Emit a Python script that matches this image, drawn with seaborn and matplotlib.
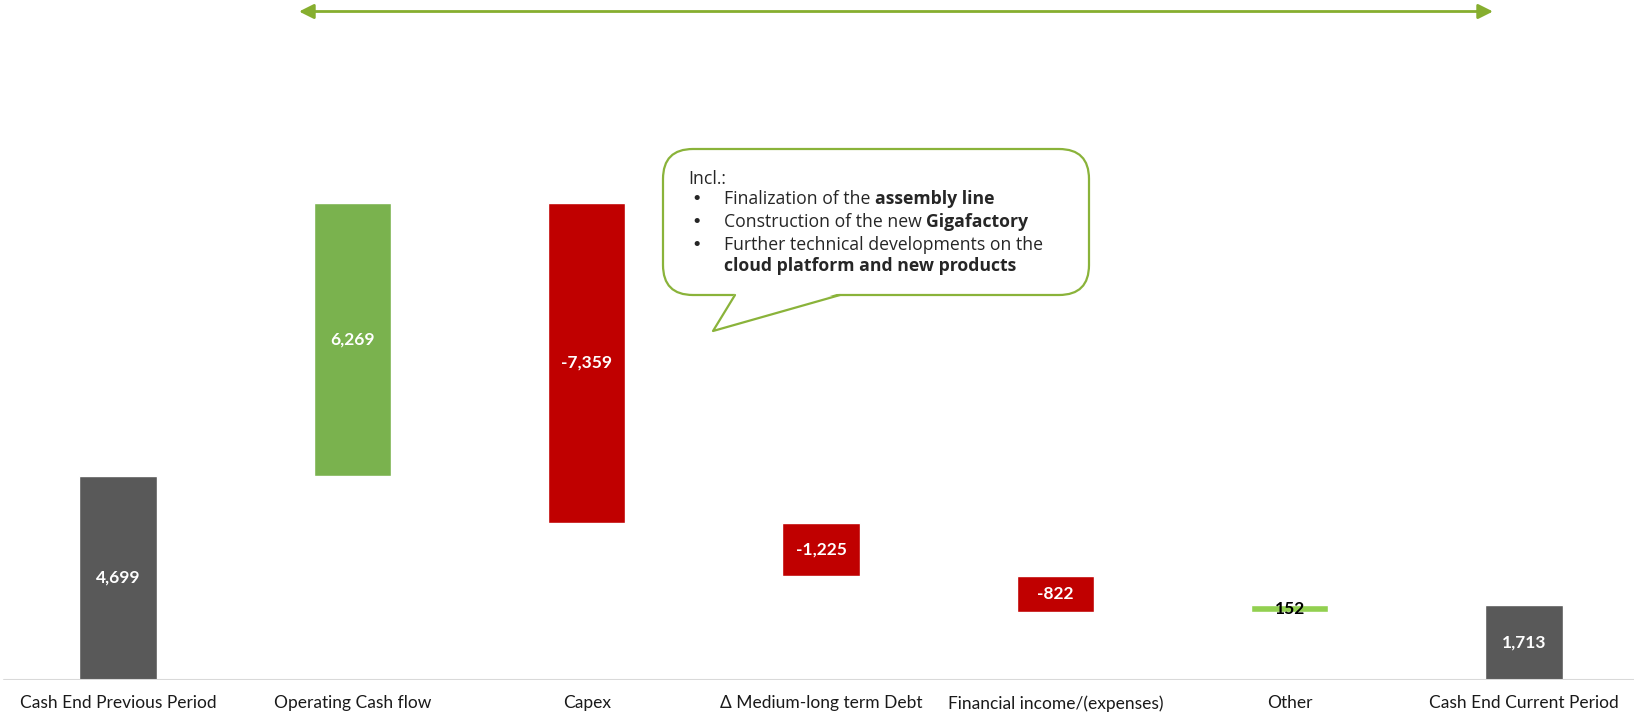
import matplotlib
matplotlib.use("Agg")
import matplotlib.pyplot as plt
from matplotlib.patches import FancyBboxPatch, Polygon
from matplotlib.lines import Line2D
from matplotlib.transforms import IdentityTransform
import numpy as np
import pandas as pd
import seaborn as sns

# dados do gráfico
categorias = ['Cash End Previous Period', 'Operating Cash flow', 'Capex',
              'Δ Medium-long term Debt', 'Financial income/(expenses)', 'Other',
              'Cash End Current Period']
valores = [4699, 6269, -7359, -1225, -822, 152, 1713]
tipos = ['total', 'delta', 'delta', 'delta', 'delta', 'delta', 'total']
cores = ['#595959', '#7AB24E', '#C00000', '#C00000', '#C00000', '#92D050', '#595959']
rotulos = ['4,699', '6,269', '-7,359', '-1,225', '-822', '152', '1,713']
cor_rotulo = ['white', 'white', 'white', 'white', 'white', 'black', 'white']

# calcular base e topo de cada barra
base, topo = [], []
acum = 0
for v, t in zip(valores, tipos):
    if t == 'total':
        base.append(0)
        topo.append(v)
        acum = v
    else:
        novo = acum + v
        base.append(min(acum, novo))
        topo.append(max(acum, novo))
        acum = novo

df = pd.DataFrame({'categoria': categorias, 'topo': topo, 'base': base})

sns.set_style("white")
plt.rcParams['font.family'] = ['Lato', 'DejaVu Sans']

W, H = 1634, 716
fig = plt.figure(figsize=(W / 100, H / 100), dpi=100)
ax = fig.add_axes([0, 36 / H, 1, 680 / H])

sns.barplot(data=df, x='categoria', y='topo', hue='categoria', palette=cores,
            width=0.33, saturation=1, legend=False, ax=ax)
# mascara branca para a parte de baixo das barras flutuantes
sns.barplot(data=df, x='categoria', y='base', color='white', width=0.34,
            saturation=1, ax=ax)

for i, (b, t) in enumerate(zip(base, topo)):
    ax.text(i, (b + t) / 2, rotulos[i], ha='center', va='center',
            color=cor_rotulo[i], fontsize=12.5, fontweight='bold')

ax.set_xlim(-0.504, 6.47)
ax.set_ylim(0, 15630)
ax.set_xlabel('')
ax.set_ylabel('')
ax.set_yticks([])
ax.tick_params(axis='x', length=0, pad=11, labelsize=12.5, colors='#1a1a1a')
for s in ['top', 'left', 'right']:
    ax.spines[s].set_visible(False)
ax.spines['bottom'].set_visible(False)
ax.add_line(Line2D([4 / W, 1], [0, 0], transform=ax.transAxes, color='#D9D9D9',
                   lw=1.5, zorder=5))

# seta no topo
verde = '#86AE2F'
ax.annotate('', xy=(1493 / W, 1 - 11.5 / H), xytext=(299 / W, 1 - 11.5 / H),
            xycoords='figure fraction', textcoords='figure fraction',
            arrowprops=dict(arrowstyle='<|-|>', color=verde, lw=2,
                            mutation_scale=22, shrinkA=0, shrinkB=0))

# balão de comentário (coordenadas em pixels)
ident = IdentityTransform()
def py(y):
    return H - y

caixa = FancyBboxPatch((663, py(295)), 1089 - 663, 295 - 149,
                       boxstyle='round,pad=0,rounding_size=30',
                       transform=ident, facecolor='white', edgecolor='#8AB33A',
                       lw=1.6, zorder=10)
fig.patches.append(caixa)
cauda = Polygon([(735, py(293)), (713, py(331)), (840, py(293))], closed=True,
                transform=ident, facecolor='white', edgecolor='none', zorder=11)
fig.patches.append(cauda)
fig.lines.append(Line2D([735, 713, 840], [py(295), py(331), py(295)],
                        transform=ident, color='#8AB33A', lw=1.6, zorder=12))

fs = 12.7
cor_txt = '#262626'
fonte_balao = ['Open Sans', 'DejaVu Sans']
fig.text(688, py(179), 'Incl.:', transform=ident, fontsize=fs, va='center',
         color=cor_txt, zorder=13, family=fonte_balao)
linhas = [
    (199, True, [('Finalization of the ', 'normal'), ('assembly line', 'bold')]),
    (222, True, [('Construction of the new ', 'normal'), ('Gigafactory', 'bold')]),
    (245, True, [('Further technical developments on the', 'normal')]),
    (266, False, [('cloud platform and new products', 'bold')]),
]
fig.canvas.draw()
renderer = fig.canvas.get_renderer()
for y, bullet, partes in linhas:
    if bullet:
        fig.text(691, py(y), '•', transform=ident, fontsize=fs, va='center',
                 color=cor_txt, zorder=13, family=['DejaVu Sans'])
    x = 724
    for txt, peso in partes:
        t = fig.text(x, py(y), txt, transform=ident, fontsize=fs, va='center',
                     fontweight=peso, color=cor_txt, zorder=13,
                     family=fonte_balao)
        x = t.get_window_extent(renderer).x1

fig.savefig('out.png', dpi=100)
